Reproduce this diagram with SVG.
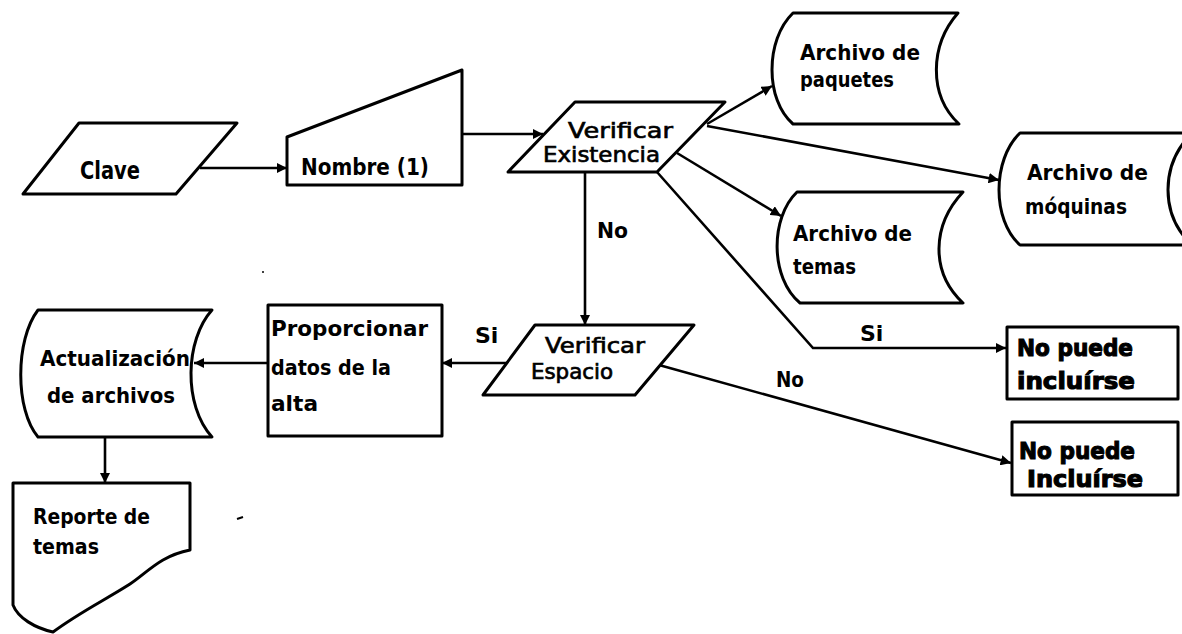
<svg xmlns="http://www.w3.org/2000/svg" width="1182" height="634" viewBox="0 0 1182 634">
  <defs>
    <marker id="arrow" viewBox="0 0 10 10" refX="10" refY="5" markerWidth="4" markerHeight="4" orient="auto" markerUnits="strokeWidth">
      <path d="M0,0 L10,5 L0,10 Z" fill="#000"/>
    </marker>
    <style>
      .shape { fill: #fff; stroke: #000; stroke-width: 3; stroke-linejoin: round; }
      .conn-arrow { fill: none; stroke: #000; stroke-width: 2.6; marker-end: url(#arrow); }
      .t { font-family: "DejaVu Sans", "Liberation Sans", sans-serif; font-weight: bold; fill: #000; }
      .heavy { stroke: #000; stroke-width: 1.1; }
      .light { font-weight: normal; stroke: #000; stroke-width: 0.7; }
      .lbl { font-family: "DejaVu Sans", "Liberation Sans", sans-serif; font-weight: bold; fill: #000; font-size: 22px; }
    </style>
  </defs>

  <rect width="1182" height="634" fill="#fff"/>

  <!-- connectors -->
  <g id="connectors">
    <line class="conn-arrow" x1="200" y1="168" x2="287" y2="168"/>
    <line class="conn-arrow" x1="462" y1="134" x2="543" y2="134"/>
    <line class="conn-arrow" x1="707" y1="124" x2="772" y2="86"/>
    <line class="conn-arrow" x1="707" y1="126" x2="999" y2="180"/>
    <line class="conn-arrow" x1="677" y1="153" x2="781" y2="216"/>
    <polyline class="conn-arrow" points="657,172 813,348 1006,348"/>
    <line class="conn-arrow" x1="585" y1="172" x2="585" y2="325"/>
    <line class="conn-arrow" x1="513" y1="363" x2="442" y2="363"/>
    <line class="conn-arrow" x1="268" y1="363" x2="194" y2="363"/>
    <line class="conn-arrow" x1="105" y1="437" x2="105" y2="483"/>
    <line class="conn-arrow" x1="659" y1="365" x2="1011" y2="463"/>
    <text class="lbl" x="597" y="238" textLength="31" lengthAdjust="spacingAndGlyphs">No</text>
    <text class="lbl" x="860" y="341">Si</text>
    <text class="lbl" x="475" y="343">Si</text>
    <text class="lbl" x="776" y="387" textLength="28" lengthAdjust="spacingAndGlyphs">No</text>
  </g>

  <!-- input: Clave -->
  <g id="clave">
    <polygon class="shape" points="79,123 237,123 176,194 23,194"/>
    <text class="t" x="80" y="179" font-size="24" textLength="60" lengthAdjust="spacingAndGlyphs">Clave</text>
  </g>

  <!-- manual input: Nombre (1) -->
  <g id="nombre">
    <polygon class="shape" points="287,137 462,70 462,185 287,185"/>
    <text class="t" x="301" y="175" font-size="23" textLength="128" lengthAdjust="spacingAndGlyphs">Nombre (1)</text>
  </g>

  <!-- decision: Verificar Existencia -->
  <g id="verificar-existencia">
    <polygon class="shape" points="575,102 725,102 657,172 508,172"/>
    <text class="t light" x="568" y="138" font-size="22" textLength="105" lengthAdjust="spacingAndGlyphs">Verificar</text>
    <text class="t light" x="543" y="162" font-size="22" textLength="117" lengthAdjust="spacingAndGlyphs">Existencia</text>
  </g>

  <!-- stored data: Archivo de paquetes -->
  <g id="archivo-paquetes">
    <path class="shape" d="M793,13 L958,13 C930,45 928,95 959,124 L793,124 C765,100 765,40 793,13 Z"/>
    <text class="t" x="800" y="60" font-size="21" textLength="120" lengthAdjust="spacingAndGlyphs">Archivo de</text>
    <text class="t" x="800" y="87" font-size="21" textLength="94" lengthAdjust="spacingAndGlyphs">paquetes</text>
  </g>

  <!-- stored data: Archivo de máquinas -->
  <g id="archivo-maquinas">
    <path class="shape" d="M1020,133 L1192,133 C1160,165 1160,215 1192,245 L1020,245 C992,220 992,160 1020,133 Z"/>
    <text class="t" x="1027" y="180" font-size="21" textLength="121" lengthAdjust="spacingAndGlyphs">Archivo de</text>
    <text class="t" x="1025" y="214" font-size="21" textLength="102" lengthAdjust="spacingAndGlyphs">móquinas</text>
  </g>

  <!-- stored data: Archivo de temas -->
  <g id="archivo-temas">
    <path class="shape" d="M797,192 L963,192 C932,225 930,272 963,303 L800,303 C770,278 770,218 797,192 Z"/>
    <text class="t" x="793" y="241" font-size="21" textLength="119" lengthAdjust="spacingAndGlyphs">Archivo de</text>
    <text class="t" x="793" y="274" font-size="21" textLength="63" lengthAdjust="spacingAndGlyphs">temas</text>
  </g>

  <!-- terminal: No puede incluirse (Si) -->
  <g id="no-puede-1">
    <rect class="shape" x="1007" y="327" width="171" height="72"/>
    <text class="t heavy" x="1017" y="356" font-size="23" textLength="116" lengthAdjust="spacingAndGlyphs">No puede</text>
    <text class="t heavy" x="1017" y="389" font-size="23" textLength="118" lengthAdjust="spacingAndGlyphs">incluírse</text>
  </g>

  <!-- terminal: No puede incluirse (No) -->
  <g id="no-puede-2">
    <rect class="shape" x="1012" y="422" width="166" height="73"/>
    <text class="t heavy" x="1019" y="459" font-size="23" textLength="116" lengthAdjust="spacingAndGlyphs">No puede</text>
    <text class="t heavy" x="1027" y="487" font-size="23" textLength="116" lengthAdjust="spacingAndGlyphs">Incluírse</text>
  </g>

  <!-- decision: Verificar Espacio -->
  <g id="verificar-espacio">
    <polygon class="shape" points="535,325 694,325 635,395 483,395"/>
    <text class="t light" x="545" y="353" font-size="21" textLength="100" lengthAdjust="spacingAndGlyphs">Verificar</text>
    <text class="t light" x="531" y="379" font-size="21" textLength="82" lengthAdjust="spacingAndGlyphs">Espacio</text>
  </g>

  <!-- process: Proporcionar datos de la alta -->
  <g id="proporcionar">
    <rect class="shape" x="268" y="305" width="174" height="131"/>
    <text class="t" x="271" y="336" font-size="21" textLength="157" lengthAdjust="spacingAndGlyphs">Proporcionar</text>
    <text class="t" x="271" y="375" font-size="21" textLength="120" lengthAdjust="spacingAndGlyphs">datos de la</text>
    <text class="t" x="271" y="411" font-size="21" textLength="47" lengthAdjust="spacingAndGlyphs">alta</text>
  </g>

  <!-- stored data: Actualización de archivos -->
  <g id="actualizacion">
    <path class="shape" d="M38,310 L212,310 C185,340 183,405 212,437 L38,437 C15,410 15,340 38,310 Z"/>
    <text class="t" x="40" y="366" font-size="21" textLength="150" lengthAdjust="spacingAndGlyphs">Actualización</text>
    <text class="t" x="47" y="403" font-size="21" textLength="128" lengthAdjust="spacingAndGlyphs">de archivos</text>
  </g>

  <!-- document: Reporte de temas -->
  <g id="reporte">
    <path class="shape" d="M13,483 L190,483 L190,550 C160,556 148,572 130,584 C105,600 80,612 53,632 C35,628 18,618 13,605 Z"/>
    <text class="t" x="33" y="524" font-size="21" textLength="117" lengthAdjust="spacingAndGlyphs">Reporte de</text>
    <text class="t" x="33" y="554" font-size="21" textLength="66" lengthAdjust="spacingAndGlyphs">temas</text>
  </g>

  <!-- stray pen marks -->
  <path d="M237,519 L243,517" stroke="#000" stroke-width="2"/>
  <circle cx="263" cy="272" r="1" fill="#000"/>
</svg>
